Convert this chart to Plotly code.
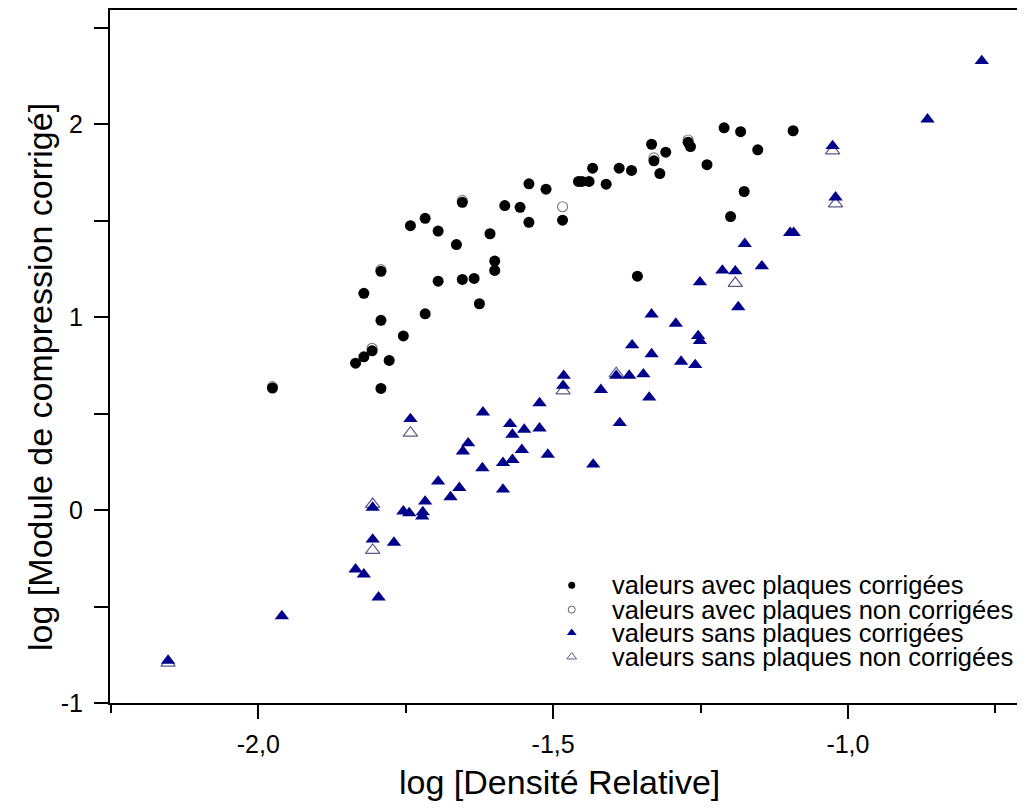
import plotly.graph_objects as go

# valeurs avec plaques corrigées
x_avec_corr = [-1.654, -1.742, -1.717, -1.695, -1.664, -1.607, -1.599, -1.599, -1.792, -1.654,
	-1.634, -1.695, -1.821, -1.625, -1.717, -1.792, -1.754, -1.807, -1.821, -1.835,
	-1.778, -1.976, -1.792, -1.357, -1.210, -1.182, -1.093, -1.333, -1.271, -1.267,
	-1.309, -1.153, -1.329, -1.239, -1.319, -1.433, -1.388, -1.367, -1.457, -1.451,
	-1.439, -1.410, -1.541, -1.512, -1.176, -1.582, -1.556, -1.541, -1.484, -1.199]
y_avec_corr = [1.596, 1.475, 1.513, 1.447, 1.377, 1.433, 1.291, 1.243, 1.238, 1.196,
	1.201, 1.187, 1.124, 1.070, 1.018, 0.984, 0.903, 0.826, 0.795, 0.762,
	0.776, 0.633, 0.631, 1.213, 1.982, 1.962, 1.967, 1.897, 1.907, 1.885,
	1.856, 1.868, 1.811, 1.791, 1.745, 1.773, 1.773, 1.761, 1.704, 1.704,
	1.704, 1.690, 1.692, 1.664, 1.652, 1.579, 1.570, 1.492, 1.503, 1.522]

# valeurs avec plaques non corrigées
x_avec_noncorr = [-1.484, -1.329, -1.271, -1.807, -1.792, -1.654, -1.976]
y_avec_noncorr = [1.573, 1.826, 1.919, 0.839, 1.247, 1.606, 0.640]

# valeurs sans plaques corrigées
x_sans_corr = [-2.153, -1.960, -1.835, -1.821, -1.796, -1.806, -1.770, -1.806, -1.754, -1.744,
	-1.721, -1.722, -1.717, -1.695, -1.674, -1.659, -1.742, -1.619, -1.644, -1.653,
	-1.620, -1.585, -1.585, -1.569, -1.553, -1.509, -1.573, -1.549, -1.569, -1.523,
	-1.523, -1.432, -1.482, -1.483, -1.419, -1.387, -1.393, -1.371, -1.347, -1.337,
	-1.366, -1.333, -1.333, -1.292, -1.254, -1.251, -1.283, -1.259, -1.251, -1.213,
	-1.191, -1.146, -1.186, -1.175, -1.098, -1.092, -1.026, -1.021, -0.865, -0.773]
y_sans_corr = [-0.780, -0.549, -0.307, -0.333, -0.452, -0.152, -0.168, 0.013, -0.006, -0.015,
	-0.010, -0.032, 0.045, 0.149, 0.068, 0.116, 0.473, 0.507, 0.347, 0.305,
	0.218, 0.107, 0.245, 0.261, 0.313, 0.288, 0.447, 0.418, 0.392, 0.424,
	0.555, 0.237, 0.697, 0.645, 0.624, 0.452, 0.697, 0.698, 0.705, 0.584,
	0.855, 0.809, 1.015, 0.967, 0.903, 0.877, 0.770, 0.753, 1.182, 1.243,
	1.239, 1.265, 1.053, 1.381, 1.438, 1.438, 1.888, 1.622, 2.026, 2.329]

# valeurs sans plaques non corrigées
x_sans_noncorr = [-2.153, -1.742, -1.806, -1.806, -1.483, -1.393, -1.191, -1.026, -1.021]
y_sans_noncorr = [-0.793, 0.400, 0.030, -0.208, 0.619, 0.709, 1.176, 1.863, 1.588]

legend_labels = [
	'valeurs avec plaques corrigées',
	'valeurs avec plaques non corrigées',
	'valeurs sans plaques corrigées',
	'valeurs sans plaques non corrigées',
]
x_tick_vals = [-2.0, -1.5, -1.0]
x_tick_text = ['-2,0', '-1,5', '-1,0']
y_tick_vals = [-1, 0, 1, 2]
y_tick_text = ['-1', '0', '1', '2']

FONT = 'Arial, Liberation Sans, sans-serif'
NAVY = '#00008b'

styles = [
	dict(symbol = 'circle', size = 11, color = 'black'),
	dict(symbol = 'circle-open', size = 10, color = '#808080', line = dict(width = 1.2)),
	dict(symbol = 'triangle-up', size = 12.5, color = NAVY),
	dict(symbol = 'triangle-up-open', size = 12.5, color = '#5a5a8c', line = dict(width = 1.2)),
]
series = [
	(x_avec_noncorr, y_avec_noncorr, 1),
	(x_avec_corr, y_avec_corr, 0),
	(x_sans_noncorr, y_sans_noncorr, 3),
	(x_sans_corr, y_sans_corr, 2),
]

fig = go.Figure()
for xs, ys, n in series:
	fig.add_trace(
		go.Scatter(
			x = xs,
			y = ys,
			mode = 'markers',
			marker = styles[n],
			name = legend_labels[n],
			showlegend = False,
		)
	)

# hand made legend, drawn on an overlay axis spanning the plot area
legend_rows = [0.1698, 0.1348, 0.1012, 0.0666]
legend_styles = [
	dict(symbol = 'circle', size = 7, color = 'black'),
	dict(symbol = 'circle-open', size = 7, color = '#606060', line = dict(width = 1)),
	dict(symbol = 'triangle-up', size = 8.5, color = NAVY),
	dict(symbol = 'triangle-up-open', size = 8.5, color = '#5a5a8c', line = dict(width = 1)),
]
for n, label in enumerate(legend_labels):
	fig.add_trace(
		go.Scatter(
			x = [0.5046],
			y = [legend_rows[n]],
			mode = 'markers',
			marker = legend_styles[n],
			xaxis = 'x2',
			yaxis = 'y2',
			showlegend = False,
			hoverinfo = 'skip',
		)
	)
	fig.add_annotation(
		x = 0.5464,
		y = legend_rows[n],
		xref = 'paper',
		yref = 'paper',
		text = label,
		showarrow = False,
		xanchor = 'left',
		yanchor = 'middle',
		font = dict(family = FONT, size = 25.5, color = '#000'),
	)

fig.add_annotation(
	x = 0.4918, y = -0.1137, xref = 'paper', yref = 'paper',
	text = 'log [Densité Relative]', showarrow = False,
	xanchor = 'center', yanchor = 'middle',
	font = dict(family = FONT, size = 34, color = '#000'),
)
fig.add_annotation(
	x = -0.0765, y = 0.4705, xref = 'paper', yref = 'paper',
	text = 'log [Module de compression corrigé]', showarrow = False,
	textangle = -90, xanchor = 'center', yanchor = 'middle',
	font = dict(family = FONT, size = 34, color = '#000'),
)

# the page body has an 8px margin, so the figure is a bit smaller than the window
fig.update_layout(
	width = 1017,
	height = 801,
	margin = dict(l = 102, r = 0, t = 0, b = 106),
	plot_bgcolor = 'white',
	paper_bgcolor = 'white',
	showlegend = False,
	font = dict(family = FONT, size = 25, color = '#000'),
	xaxis = dict(
		range = [-2.2515, -0.6997],
		tickmode = 'array',
		tickvals = x_tick_vals,
		ticktext = x_tick_text,
		ticks = 'outside',
		ticklen = 14,
		tickwidth = 2,
		tickcolor = 'black',
		ticklabelstandoff = 4,
		showline = True,
		linewidth = 2,
		linecolor = 'black',
		mirror = True,
		showgrid = False,
		zeroline = False,
		minor = dict(tickmode = 'linear', tick0 = 0, dtick = 0.25, ticks = 'outside', ticklen = 8, tickwidth = 2, tickcolor = 'black', showgrid = False),
	),
	yaxis = dict(
		range = [-1.0, 2.593],
		tickmode = 'array',
		tickvals = y_tick_vals,
		ticktext = y_tick_text,
		ticks = 'outside',
		ticklen = 14,
		tickwidth = 2,
		tickcolor = 'black',
		ticklabelstandoff = 6,
		showline = True,
		linewidth = 2,
		linecolor = 'black',
		showgrid = False,
		zeroline = False,
		minor = dict(tickmode = 'linear', tick0 = 0, dtick = 0.5, ticks = 'outside', ticklen = 14, tickwidth = 2, tickcolor = 'black', showgrid = False),
	),
	xaxis2 = dict(overlaying = 'x', range = [0, 1], visible = False),
	yaxis2 = dict(overlaying = 'y', range = [0, 1], visible = False),
)

fig.write_html('out.html')
